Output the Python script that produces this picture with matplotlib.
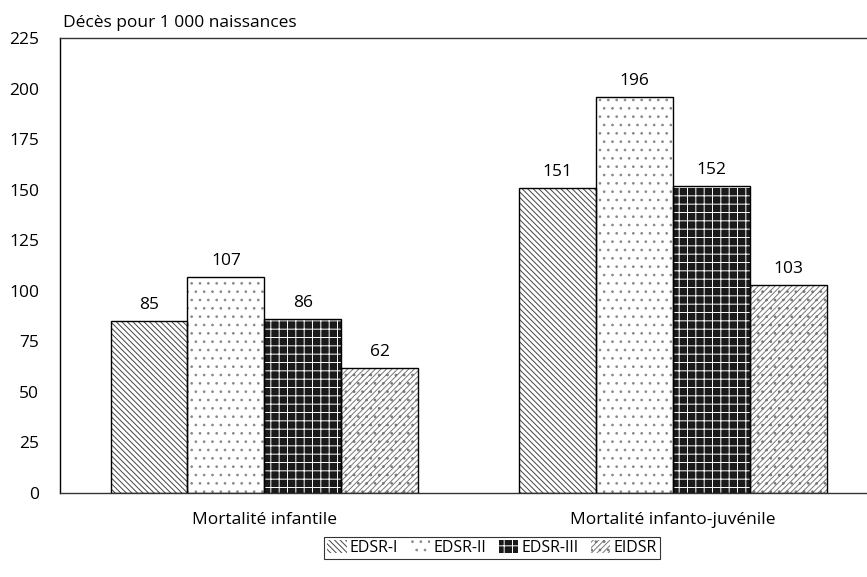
import matplotlib
matplotlib.use("Agg")
import matplotlib.pyplot as plt
import numpy as np
from matplotlib.patches import Patch

categories = ["Mortalité infantile", "Mortalité infanto-juvénile"]
series = ["EDSR-I", "EDSR-II", "EDSR-III", "EIDSR"]
values = {
    "EDSR-I": [85, 151],
    "EDSR-II": [107, 196],
    "EDSR-III": [86, 152],
    "EIDSR": [62, 103],
}
yticks = [0, 25, 50, 75, 100, 125, 150, 175, 200, 225]

plt.rcParams['font.family'] = ['Open Sans', 'DejaVu Sans']
plt.rcParams['hatch.linewidth'] = 0.7

fig = plt.figure(figsize=(8.67, 5.77), dpi=100)
ax = fig.add_axes([60/867, 1-493/577, 1-60/867, (493-38)/577])

styles = {
    "EDSR-I": dict(facecolor="white", hatch="\\\\\\\\\\\\", hcolor="#444444"),
    "EDSR-II": dict(facecolor="white", hatch="..", hcolor="#888888"),
    "EDSR-III": dict(facecolor="#1a1a1a", hatch="++", hcolor="white"),
    "EIDSR": dict(facecolor="white", hatch="//////..", hcolor="#777777"),
}

x = np.arange(len(categories))
w = 0.188
offsets = [-1.5, -0.5, 0.5, 1.5]
handles = []
for s, off in zip(series, offsets):
    st = styles[s]
    pos = x + off * w
    ax.bar(pos, values[s], w, facecolor=st["facecolor"], edgecolor=st["hcolor"],
           hatch=st["hatch"], linewidth=0, zorder=2)
    ax.bar(pos, values[s], w, facecolor="none", edgecolor="black", linewidth=1.0, zorder=3)
    for xi, v in zip(pos, values[s]):
        ax.text(xi, v + 4, str(v), ha="center", va="bottom", fontsize=12.5)
    handles.append(Patch(facecolor=st["facecolor"], edgecolor=st["hcolor"], hatch=st["hatch"],
                         linewidth=0, label=s))

ax.set_xlim(-0.5, 1.475)
ax.set_ylim(0, 225)
ax.set_yticks(yticks)
ax.set_yticklabels([str(t) for t in yticks], fontsize=12.5)
ax.set_xticks(x)
ax.set_xticklabels(categories, fontsize=12.5)
ax.tick_params(axis='y', length=0, pad=15)
ax.tick_params(axis='x', length=0, pad=14)
ax.spines['right'].set_visible(False)
for sp in ['left', 'top', 'bottom']:
    ax.spines[sp].set_linewidth(1.0)
ax.spines['bottom'].set_color('#333333')
ax.spines['top'].set_color('#333333')

fig.text(60/867 + 0.003, 1-23/577, "Décès pour 1 000 naissances", fontsize=12.5, va="center", ha="left")

leg = fig.legend(handles=handles, loc="center", bbox_to_anchor=(492/867, 1-548/577), ncol=4,
                 frameon=True, fancybox=False, edgecolor="black", fontsize=11.5,
                 handlelength=1.2, handleheight=0.9, handletextpad=0.2, columnspacing=0.8,
                 borderpad=0.2)
leg.get_frame().set_linewidth(0.8)

fig.savefig("out.png", dpi=100)
